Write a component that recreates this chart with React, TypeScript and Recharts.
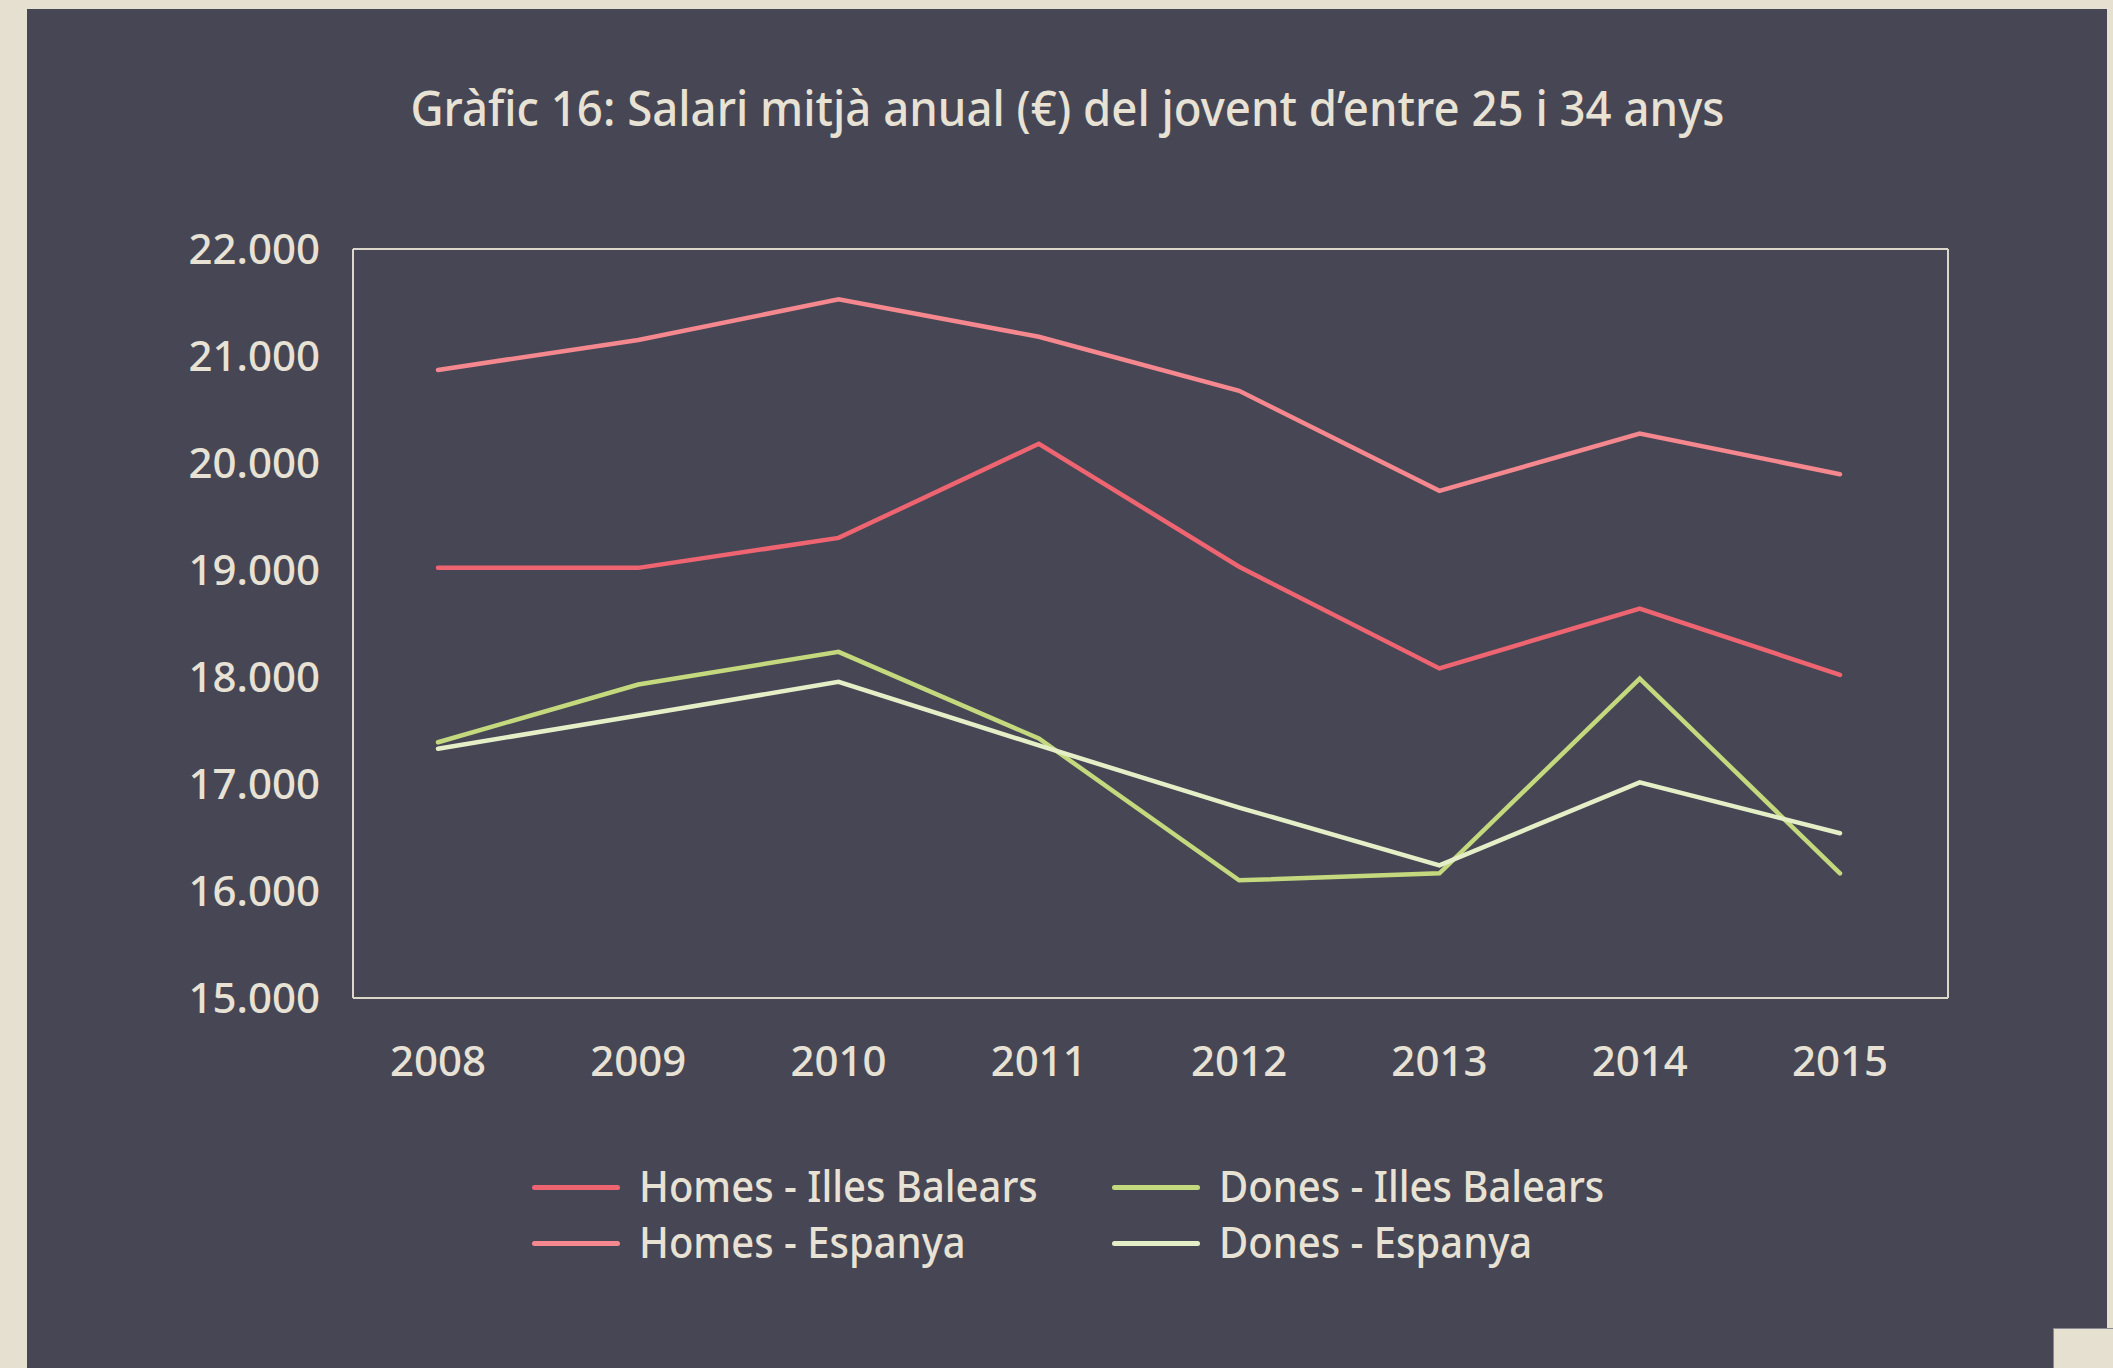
import { LineChart, Line, XAxis, YAxis, Legend, CartesianGrid } from "recharts";

const years = ["2008", "2009", "2010", "2011", "2012", "2013", "2014", "2015"];
const homesIllesBalears = [19020, 19020, 19300, 20180, 19030, 18080, 18640, 18020];
const homesEspanya = [20870, 21150, 21530, 21180, 20675, 19740, 20275, 19895];
const donesIllesBalears = [17390, 17930, 18235, 17425, 16100, 16165, 17985, 16165];
const donesEspanya = [17330, 17640, 17955, 17360, 16780, 16240, 17015, 16540];
const yTicks = [15000, 16000, 17000, 18000, 19000, 20000, 21000, 22000];
const seriesNames = ["Homes - Illes Balears", "Homes - Espanya", "Dones - Illes Balears", "Dones - Espanya"];

const TITLE = "Gràfic 16: Salari mitjà anual (€) del jovent d’entre 25 i 34 anys";

const BG = "#474655";
const PAGE = "#e6e0d1";
const TEXT = "#e8e2d4";
const FRAME = "#dcd7c8";
const FONT = "'Noto Sans', 'Open Sans', sans-serif";

const data = years.map((year, i) => ({
  year,
  hib: homesIllesBalears[i],
  he: homesEspanya[i],
  dib: donesIllesBalears[i],
  de: donesEspanya[i],
}));

const fmt = (v: number) => `${Math.floor(v / 1000)}.${String(v % 1000).padStart(3, "0")}`;

// llegenda en 2 columnes x 2 files, en l'ordre de les sèries
const renderLegend = (props: any) => {
  const items = [...(props.payload || [])].sort(
    (a: any, b: any) => seriesNames.indexOf(a.value) - seriesNames.indexOf(b.value)
  );
  return (
    <div
      style={{
        display: "grid",
        gridTemplateColumns: "580px auto",
        gridTemplateRows: "repeat(2, 56px)",
        gridAutoFlow: "column",
        fontFamily: FONT,
      }}
    >
      {items.map((it: any) => (
        <div key={it.value} style={{ display: "flex", alignItems: "center", height: 56 }}>
          <div style={{ width: 88, height: 5, borderRadius: 3, background: it.color, marginRight: 19, marginTop: 3 }} />
          <span
            style={{
              fontSize: 43,
              fontWeight: 500,
              color: TEXT,
              lineHeight: "56px",
              display: "inline-block",
              transform: "scaleX(0.93)",
              transformOrigin: "left center",
              whiteSpace: "nowrap",
            }}
          >
            {it.value}
          </span>
        </div>
      ))}
    </div>
  );
};

export default function App() {
  const tickStyle = { fill: TEXT, fontSize: 42, fontFamily: FONT, fontWeight: 500 };
  return (
    <div style={{ position: "absolute", left: 0, top: 0, width: 2113, height: 1368, background: PAGE, overflow: "hidden" }}>
      <div style={{ position: "absolute", left: 27, top: 9, width: 2080, height: 1359, background: BG }} />
      <div
        style={{
          position: "absolute",
          left: 2053,
          top: 1328,
          width: 60,
          height: 40,
          background: PAGE,
          borderTop: "1px solid #8b8896",
          borderLeft: "1px solid #8b8896",
        }}
      />
      <div
        style={{
          position: "absolute",
          left: 27,
          top: 74,
          width: 2080,
          textAlign: "center",
          fontFamily: FONT,
          fontSize: 49,
          fontWeight: 500,
          lineHeight: "66px",
          color: TEXT,
          whiteSpace: "nowrap",
        }}
      >
        <span style={{ display: "inline-block", transform: "scaleX(0.93)", transformOrigin: "center" }}>{TITLE}</span>
      </div>
      <div style={{ position: "absolute", left: 0, top: 0 }}>
        <LineChart width={2113} height={1368} data={data} margin={{ top: 249, right: 165, bottom: 290, left: 27 }}>
          <CartesianGrid
            stroke={FRAME}
            strokeWidth={2}
            horizontalCoordinatesGenerator={({ offset }: any) => [offset.top, offset.top + offset.height]}
            verticalCoordinatesGenerator={({ offset }: any) => [offset.left, offset.left + offset.width]}
          />
          <XAxis
            dataKey="year"
            padding={{ left: 85, right: 108 }}
            tickLine={false}
            tickSize={0}
            tickMargin={48}
            height={80}
            tick={tickStyle}
            axisLine={false}
          />
          <YAxis
            type="number"
            domain={[15000, 22000]}
            ticks={yTicks}
            interval={0}
            width={326}
            tickLine={false}
            tickSize={0}
            tickMargin={33}
            tickFormatter={fmt}
            tick={tickStyle}
            axisLine={false}
          />
          <Line dataKey="hib" name={seriesNames[0]} stroke="#ee6571" strokeWidth={4.5} dot={false} isAnimationActive={false} strokeLinecap="round" />
          <Line dataKey="he" name={seriesNames[1]} stroke="#f5878e" strokeWidth={4.5} dot={false} isAnimationActive={false} strokeLinecap="round" />
          <Line dataKey="dib" name={seriesNames[2]} stroke="#c4d97e" strokeWidth={4.5} dot={false} isAnimationActive={false} strokeLinecap="round" />
          <Line dataKey="de" name={seriesNames[3]} stroke="#e4efc8" strokeWidth={4.5} dot={false} isAnimationActive={false} strokeLinecap="round" />
          <Legend
            layout="horizontal"
            verticalAlign="middle"
            align="center"
            content={renderLegend}
            wrapperStyle={{ left: 532, top: 1158, width: 1200, height: 112 }}
          />
        </LineChart>
      </div>
    </div>
  );
}
